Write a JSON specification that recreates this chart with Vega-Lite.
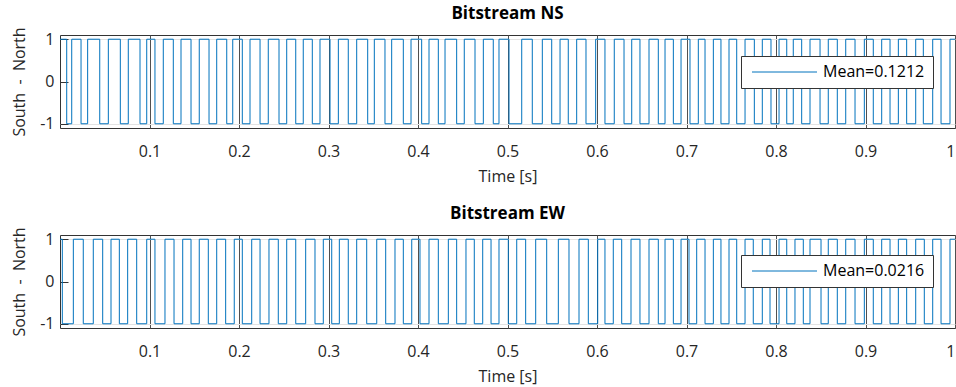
{
  "$schema": "https://vega.github.io/schema/vega-lite/v6.json",
  "background": "white",
  "padding": {"left": 11, "top": 4, "right": 0, "bottom": 0},
  "spacing": 19,
  "config": {
    "font": "Open Sans",
    "view": {"stroke": "#333333", "strokeWidth": 1},
    "title": {"fontSize": 17, "fontWeight": "bold", "color": "#000000", "offset": 4, "anchor": "middle"},
    "axisX": {
      "grid": true, "gridColor": "#505050", "gridWidth": 1,
      "ticks": false, "domain": false,
      "labelFontSize": 16, "labelColor": "#262626", "labelPadding": 15, "labelFlush": true,
      "titleFontSize": 16, "titleFontWeight": "normal", "titleColor": "#262626", "titlePadding": 9
    },
    "axisY": {
      "grid": true,
      "gridColor": {"condition": {"test": "datum.value === 0", "value": "transparent"}, "value": "#e3e3e3"},
      "ticks": true, "tickSize": -8, "tickColor": "#333333",
      "domain": false,
      "labelFontSize": 16, "labelColor": "#262626", "labelPadding": 14,
      "titleFontSize": 16, "titleFontWeight": "normal", "titleColor": "#262626", "titlePadding": 12
    },
    "legend": {
      "orient": "none",
      "title": null,
      "strokeColor": "#333333",
      "fillColor": "white",
      "padding": 8,
      "cornerRadius": 0,
      "symbolType": "M-1,0H12",
      "symbolSize": 100,
      "symbolStrokeWidth": 1,
      "symbolOffset": 0,
      "labelFontSize": 16,
      "labelColor": "#000000",
      "labelOffset": 58
    }
  },
  "resolve": {"scale": {"color": "independent"}, "legend": {"color": "independent"}},
  "datasets": {
    "ns": [
      {"t": 0, "v": 1}, {"t": 0.0075, "v": -1}, {"t": 0.0131, "v": 1}, {"t": 0.0235, "v": -1}, {"t": 0.0309, "v": 1},
      {"t": 0.0444, "v": -1}, {"t": 0.054, "v": 1}, {"t": 0.0674, "v": -1}, {"t": 0.0763, "v": 1}, {"t": 0.0894, "v": -1},
      {"t": 0.0969, "v": 1}, {"t": 0.1061, "v": -1}, {"t": 0.1154, "v": 1}, {"t": 0.1266, "v": -1}, {"t": 0.1352, "v": 1},
      {"t": 0.1464, "v": -1}, {"t": 0.1556, "v": 1}, {"t": 0.1665, "v": -1}, {"t": 0.1751, "v": 1}, {"t": 0.1863, "v": -1},
      {"t": 0.193, "v": 1}, {"t": 0.2037, "v": -1}, {"t": 0.2123, "v": 1}, {"t": 0.2235, "v": -1}, {"t": 0.2327, "v": 1},
      {"t": 0.2447, "v": -1}, {"t": 0.2533, "v": 1}, {"t": 0.2634, "v": -1}, {"t": 0.2718, "v": 1}, {"t": 0.2819, "v": -1},
      {"t": 0.2905, "v": 1}, {"t": 0.3017, "v": -1}, {"t": 0.311, "v": 1}, {"t": 0.3221, "v": -1}, {"t": 0.3315, "v": 1},
      {"t": 0.3438, "v": -1}, {"t": 0.3512, "v": 1}, {"t": 0.3631, "v": -1}, {"t": 0.3706, "v": 1}, {"t": 0.3836, "v": -1},
      {"t": 0.3922, "v": 1}, {"t": 0.4041, "v": -1}, {"t": 0.4123, "v": 1}, {"t": 0.4227, "v": -1}, {"t": 0.4302, "v": 1},
      {"t": 0.4432, "v": -1}, {"t": 0.4517, "v": 1}, {"t": 0.4637, "v": -1}, {"t": 0.473, "v": 1}, {"t": 0.4841, "v": -1},
      {"t": 0.4905, "v": 1}, {"t": 0.5017, "v": -1}, {"t": 0.5159, "v": 1}, {"t": 0.5277, "v": -1}, {"t": 0.5389, "v": 1},
      {"t": 0.5494, "v": -1}, {"t": 0.5587, "v": 1}, {"t": 0.5679, "v": -1}, {"t": 0.5773, "v": 1}, {"t": 0.5877, "v": -1},
      {"t": 0.5985, "v": 1}, {"t": 0.6089, "v": -1}, {"t": 0.6193, "v": 1}, {"t": 0.6302, "v": -1}, {"t": 0.6388, "v": 1},
      {"t": 0.648, "v": -1}, {"t": 0.6581, "v": 1}, {"t": 0.6685, "v": -1}, {"t": 0.676, "v": 1}, {"t": 0.6853, "v": -1},
      {"t": 0.6939, "v": 1}, {"t": 0.7039, "v": -1}, {"t": 0.7132, "v": 1}, {"t": 0.7207, "v": -1}, {"t": 0.73, "v": 1},
      {"t": 0.7385, "v": -1}, {"t": 0.7475, "v": 1}, {"t": 0.7561, "v": -1}, {"t": 0.7654, "v": 1}, {"t": 0.7758, "v": -1},
      {"t": 0.7847, "v": 1}, {"t": 0.7944, "v": -1}, {"t": 0.8034, "v": 1}, {"t": 0.812, "v": -1}, {"t": 0.8193, "v": 1},
      {"t": 0.8287, "v": -1}, {"t": 0.838, "v": 1}, {"t": 0.8492, "v": -1}, {"t": 0.8584, "v": 1}, {"t": 0.8685, "v": -1},
      {"t": 0.8779, "v": 1}, {"t": 0.8883, "v": -1}, {"t": 0.8987, "v": 1}, {"t": 0.9087, "v": -1}, {"t": 0.9181, "v": 1},
      {"t": 0.9274, "v": -1}, {"t": 0.9367, "v": 1}, {"t": 0.946, "v": -1}, {"t": 0.9561, "v": 1}, {"t": 0.9646, "v": -1},
      {"t": 0.9751, "v": 1}, {"t": 0.9844, "v": -1}, {"t": 0.9944, "v": 1}, {"t": 1, "v": 1}
    ],
    "ew": [
      {"t": 0, "v": 1}, {"t": 0.0026, "v": -1}, {"t": 0.0149, "v": 1}, {"t": 0.026, "v": -1}, {"t": 0.0372, "v": 1},
      {"t": 0.0477, "v": -1}, {"t": 0.057, "v": 1}, {"t": 0.0663, "v": -1}, {"t": 0.0756, "v": 1}, {"t": 0.0857, "v": -1},
      {"t": 0.0969, "v": 1}, {"t": 0.1061, "v": -1}, {"t": 0.1173, "v": 1}, {"t": 0.1274, "v": -1}, {"t": 0.1371, "v": 1},
      {"t": 0.1464, "v": -1}, {"t": 0.1556, "v": 1}, {"t": 0.1657, "v": -1}, {"t": 0.1751, "v": 1}, {"t": 0.1851, "v": -1},
      {"t": 0.1947, "v": 1}, {"t": 0.2037, "v": -1}, {"t": 0.2142, "v": 1}, {"t": 0.2235, "v": -1}, {"t": 0.2335, "v": 1},
      {"t": 0.2439, "v": -1}, {"t": 0.2533, "v": 1}, {"t": 0.2634, "v": -1}, {"t": 0.2745, "v": 1}, {"t": 0.2849, "v": -1},
      {"t": 0.2942, "v": 1}, {"t": 0.3036, "v": -1}, {"t": 0.3121, "v": 1}, {"t": 0.3221, "v": -1}, {"t": 0.3315, "v": 1},
      {"t": 0.3427, "v": -1}, {"t": 0.3539, "v": 1}, {"t": 0.3639, "v": -1}, {"t": 0.3743, "v": 1}, {"t": 0.3836, "v": -1},
      {"t": 0.393, "v": 1}, {"t": 0.4022, "v": -1}, {"t": 0.4123, "v": 1}, {"t": 0.4227, "v": -1}, {"t": 0.4339, "v": 1},
      {"t": 0.4432, "v": -1}, {"t": 0.4536, "v": 1}, {"t": 0.4629, "v": -1}, {"t": 0.4723, "v": 1}, {"t": 0.4816, "v": -1},
      {"t": 0.4905, "v": 1}, {"t": 0.5009, "v": -1}, {"t": 0.5103, "v": 1}, {"t": 0.5203, "v": -1}, {"t": 0.5315, "v": 1},
      {"t": 0.5438, "v": -1}, {"t": 0.5568, "v": 1}, {"t": 0.5687, "v": -1}, {"t": 0.5799, "v": 1}, {"t": 0.5903, "v": -1},
      {"t": 0.6008, "v": 1}, {"t": 0.6089, "v": -1}, {"t": 0.6182, "v": 1}, {"t": 0.6276, "v": -1}, {"t": 0.638, "v": 1},
      {"t": 0.648, "v": -1}, {"t": 0.6581, "v": 1}, {"t": 0.6685, "v": -1}, {"t": 0.676, "v": 1}, {"t": 0.6853, "v": -1},
      {"t": 0.6939, "v": 1}, {"t": 0.7028, "v": -1}, {"t": 0.7114, "v": 1}, {"t": 0.7207, "v": -1}, {"t": 0.73, "v": 1},
      {"t": 0.7385, "v": -1}, {"t": 0.7475, "v": 1}, {"t": 0.7561, "v": -1}, {"t": 0.7654, "v": 1}, {"t": 0.7746, "v": -1},
      {"t": 0.7847, "v": 1}, {"t": 0.7933, "v": -1}, {"t": 0.8034, "v": 1}, {"t": 0.812, "v": -1}, {"t": 0.8212, "v": 1},
      {"t": 0.8305, "v": -1}, {"t": 0.838, "v": 1}, {"t": 0.8503, "v": -1}, {"t": 0.8584, "v": 1}, {"t": 0.8685, "v": -1},
      {"t": 0.8779, "v": 1}, {"t": 0.8883, "v": -1}, {"t": 0.8987, "v": 1}, {"t": 0.9087, "v": -1}, {"t": 0.9181, "v": 1},
      {"t": 0.9274, "v": -1}, {"t": 0.9367, "v": 1}, {"t": 0.946, "v": -1}, {"t": 0.9561, "v": 1}, {"t": 0.9657, "v": -1},
      {"t": 0.9751, "v": 1}, {"t": 0.9844, "v": -1}, {"t": 0.9944, "v": 1}, {"t": 1, "v": 1}
    ]
  },
  "vconcat": [
    {
      "width": 895,
      "height": 93,
      "title": "Bitstream NS",
      "data": {"name": "ns"},
      "mark": {"type": "line", "interpolate": "step-after", "strokeWidth": 1, "clip": true},
      "encoding": {
        "x": {"field": "t", "type": "quantitative", "scale": {"domain": [0, 1], "nice": false, "zero": false},
              "axis": {"title": "Time [s]", "values": [0.1, 0.2, 0.3, 0.4, 0.5, 0.6, 0.7, 0.8, 0.9, 1], "labelExpr": "'' + datum.value"}},
        "y": {"field": "v", "type": "quantitative", "scale": {"domain": [-1.1, 1.1], "nice": false},
              "axis": {"title": "South\u00a0\u00a0-\u00a0\u00a0North", "values": [-1, 0, 1], "labelExpr": "'' + datum.value"}},
        "color": {"datum": "Mean=0.1212", "type": "nominal", "scale": {"range": ["#0072BD"]}, "legend": {"legendX": 681, "legendY": 21}}
      }
    },
    {
      "width": 895,
      "height": 93,
      "title": "Bitstream EW",
      "data": {"name": "ew"},
      "mark": {"type": "line", "interpolate": "step-after", "strokeWidth": 1, "clip": true},
      "encoding": {
        "x": {"field": "t", "type": "quantitative", "scale": {"domain": [0, 1], "nice": false, "zero": false},
              "axis": {"title": "Time [s]", "values": [0.1, 0.2, 0.3, 0.4, 0.5, 0.6, 0.7, 0.8, 0.9, 1], "labelExpr": "'' + datum.value"}},
        "y": {"field": "v", "type": "quantitative", "scale": {"domain": [-1.1, 1.1], "nice": false},
              "axis": {"title": "South\u00a0\u00a0-\u00a0\u00a0North", "values": [-1, 0, 1], "labelExpr": "'' + datum.value"}},
        "color": {"datum": "Mean=0.0216", "type": "nominal", "scale": {"range": ["#0072BD"]}, "legend": {"legendX": 681, "legendY": 20}}
      }
    }
  ]
}
